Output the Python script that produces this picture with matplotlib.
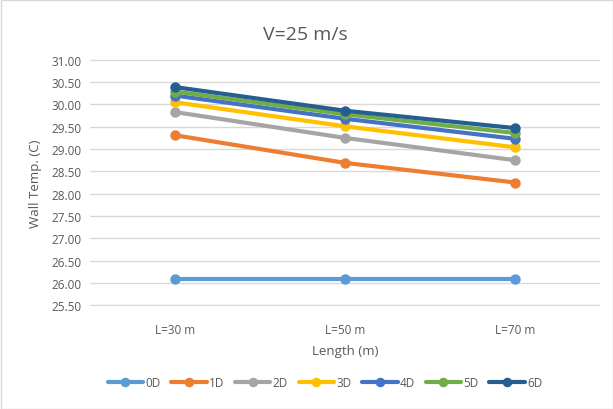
import matplotlib
matplotlib.use("Agg")
import matplotlib.pyplot as plt
from matplotlib.patches import Rectangle

categories = ["L=30 m", "L=50 m", "L=70 m"]
series_names = ["0D", "1D", "2D", "3D", "4D", "5D", "6D"]
v0 = [26.09, 26.09, 26.09]
v1 = [29.31, 28.69, 28.25]
v2 = [29.83, 29.25, 28.75]
v3 = [30.05, 29.51, 29.04]
v4 = [30.20, 29.68, 29.23]
v5 = [30.29, 29.78, 29.36]
v6 = [30.39, 29.86, 29.47]
series_values = [v0, v1, v2, v3, v4, v5, v6]
colors = ["#5B9BD5", "#ED7D31", "#A5A5A5", "#FFC000", "#4472C4", "#70AD47", "#255E91"]
yticks = [25.5 + 0.5 * i for i in range(12)]

plt.rcParams['font.family'] = ['Open Sans', 'DejaVu Sans']
txt = "#595959"

fig = plt.figure(figsize=(6.13, 4.10), dpi=100)
W, H = 613, 410
ax = fig.add_axes([90 / W, 1 - 307 / H, 510 / W, 247 / H])

x = [0.5, 1.5, 2.5]
for name, vals, c in zip(series_names, series_values, colors):
    ax.plot(x, vals, color=c, lw=3, marker='o', ms=6.5, label=name,
            solid_capstyle='round', zorder=3)

ax.set_xlim(0, 3)
ax.set_ylim(25.48, 31.02)
ax.set_yticks(yticks)
ax.set_yticklabels([f"{t:.2f}" for t in yticks])
ax.set_xticks(x)
ax.set_xticklabels(categories)
ax.grid(axis='y', color='#D9D9D9', lw=1)
ax.set_axisbelow(True)
for s in ax.spines.values():
    s.set_visible(False)
ax.tick_params(axis='both', length=0, colors=txt, labelsize=8.5)
ax.tick_params(axis='y', pad=6)
ax.tick_params(axis='x', pad=12)
ax.set_xlabel("Length (m)", color=txt, fontsize=9.5, labelpad=6)
ax.set_ylabel("Wall Temp. (C)", color=txt, fontsize=9.5, labelpad=7)

fig.text(305 / W, 1 - 35 / H, "V=25 m/s", ha='center', va='center', fontsize=14, color=txt)

leg = fig.legend(loc='center', bbox_to_anchor=(325 / W, 1 - 384 / H), ncol=7, frameon=False,
                 fontsize=8.5, handlelength=3.0, columnspacing=0.9, handletextpad=0.2,
                 markerscale=0.9)
for t in leg.get_texts():
    t.set_color(txt)

fig.patches.append(Rectangle((0.5 / W, 0.5 / H), 1 - 1 / W, 1 - 1 / H, transform=fig.transFigure,
                             fill=False, edgecolor='#D9D9D9', lw=1))

fig.savefig("out.png", dpi=100)
